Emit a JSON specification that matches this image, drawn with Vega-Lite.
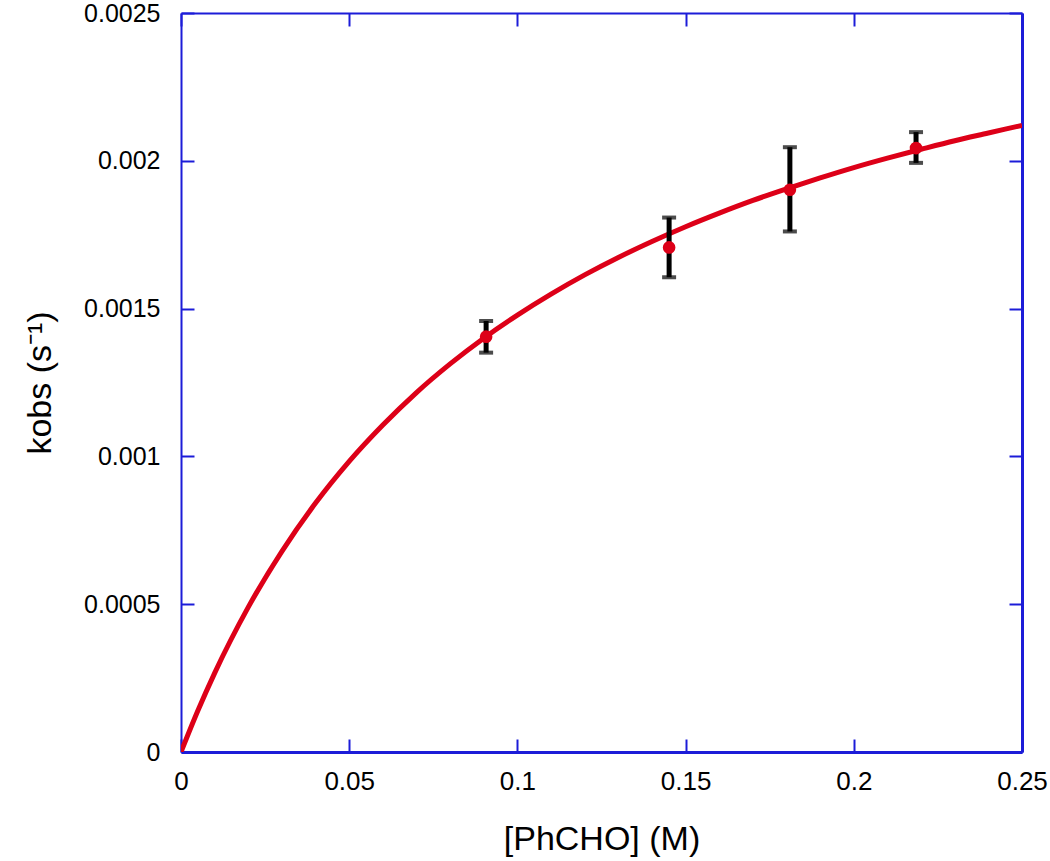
{
  "$schema": "https://vega.github.io/schema/vega-lite/v6.json",
  "width": 841,
  "height": 739,
  "autosize": {"type": "none"},
  "padding": {"left": 181, "top": 13, "right": 28, "bottom": 109},
  "background": "white",
  "config": {
    "view": {"stroke": null},
    "font": "Liberation Sans",
    "axis": {
      "grid": false,
      "domainColor": "#1c1cd8",
      "tickColor": "#1c1cd8",
      "labelColor": "#000000",
      "titleColor": "#000000",
      "labelFont": "Liberation Sans",
      "titleFont": "Liberation Sans",
      "titleFontWeight": "normal"
    }
  },
  "datasets": {
    "curve": [
      {"x": 0, "k": 0},
      {"x": 0.005, "k": 0.0001397},
      {"x": 0.01, "k": 0.000267},
      {"x": 0.02, "k": 0.00049},
      {"x": 0.03, "k": 0.000679},
      {"x": 0.04, "k": 0.000842},
      {"x": 0.05, "k": 0.000983},
      {"x": 0.06, "k": 0.001106},
      {"x": 0.07, "k": 0.001216},
      {"x": 0.08, "k": 0.001313},
      {"x": 0.09, "k": 0.0014},
      {"x": 0.1, "k": 0.001478},
      {"x": 0.11, "k": 0.001549},
      {"x": 0.12, "k": 0.001614},
      {"x": 0.13, "k": 0.001673},
      {"x": 0.14, "k": 0.001727},
      {"x": 0.15, "k": 0.001777},
      {"x": 0.16, "k": 0.001823},
      {"x": 0.17, "k": 0.001866},
      {"x": 0.18, "k": 0.001905},
      {"x": 0.19, "k": 0.001942},
      {"x": 0.2, "k": 0.001977},
      {"x": 0.21, "k": 0.002009},
      {"x": 0.22, "k": 0.002039},
      {"x": 0.23, "k": 0.002068},
      {"x": 0.24, "k": 0.002094},
      {"x": 0.25, "k": 0.00212}
    ],
    "points": [
      {"x": 0.0907, "k": 0.001405, "klo": 0.001351, "khi": 0.001458},
      {"x": 0.1451, "k": 0.001707, "klo": 0.001606, "khi": 0.001808},
      {"x": 0.181, "k": 0.001902, "klo": 0.001761, "khi": 0.002046},
      {"x": 0.2185, "k": 0.002043, "klo": 0.001993, "khi": 0.002097}
    ]
  },
  "resolve": {"axis": {"x": "independent", "y": "independent"}},
  "layer": [
    {
      "data": {"name": "curve"},
      "mark": {"type": "line", "color": "#dd0018", "strokeWidth": 5, "interpolate": "monotone", "clip": true},
      "encoding": {
        "x": {
          "field": "x", "type": "quantitative",
          "scale": {"domain": [0, 0.25], "nice": false, "zero": false},
          "axis": {
            "orient": "bottom", "title": "[PhCHO] (M)", "values": [0, 0.05, 0.1, 0.15, 0.2, 0.25],
            "format": "~g", "domainWidth": 3, "tickWidth": 2, "tickSize": -13,
            "labelFontSize": 26, "labelPadding": 29, "titleFontSize": 34, "titlePadding": 28, "labelFlush": false
          }
        },
        "y": {
          "field": "k", "type": "quantitative",
          "scale": {"domain": [0, 0.0025], "nice": false, "zero": false},
          "axis": {
            "orient": "left", "title": "kobs (s⁻¹)", "values": [0, 0.0005, 0.001, 0.0015, 0.002, 0.0025],
            "format": "~g", "domainWidth": 2, "tickWidth": 2, "tickSize": -13,
            "labelFontSize": 25, "labelPadding": 34, "titleFontSize": 34, "titlePadding": 26, "labelFlush": false
          }
        }
      }
    },
    {
      "data": {"name": "points"},
      "mark": {"type": "rule", "color": "#000000", "strokeWidth": 5},
      "encoding": {
        "x": {
          "field": "x", "type": "quantitative",
          "axis": {
            "orient": "top", "title": null, "labels": false, "values": [0, 0.05, 0.1, 0.15, 0.2, 0.25],
            "domainWidth": 2, "tickWidth": 2, "tickSize": -13
          }
        },
        "y": {
          "field": "klo", "type": "quantitative",
          "axis": {
            "orient": "right", "title": null, "labels": false, "values": [0, 0.0005, 0.001, 0.0015, 0.002, 0.0025],
            "domainWidth": 3, "tickWidth": 2, "tickSize": -13
          }
        },
        "y2": {"field": "khi"}
      }
    },
    {
      "data": {"name": "points"},
      "mark": {"type": "tick", "color": "#000000", "orient": "horizontal", "size": 14, "thickness": 4},
      "encoding": {
        "x": {"field": "x", "type": "quantitative", "axis": null},
        "y": {"field": "klo", "type": "quantitative", "axis": null}
      }
    },
    {
      "data": {"name": "points"},
      "mark": {"type": "tick", "color": "#000000", "orient": "horizontal", "size": 14, "thickness": 4},
      "encoding": {
        "x": {"field": "x", "type": "quantitative", "axis": null},
        "y": {"field": "khi", "type": "quantitative", "axis": null}
      }
    },
    {
      "data": {"name": "points"},
      "mark": {"type": "point", "filled": true, "shape": "circle", "color": "#dd0018", "size": 160, "opacity": 1},
      "encoding": {
        "x": {"field": "x", "type": "quantitative", "axis": null},
        "y": {"field": "k", "type": "quantitative", "axis": null}
      }
    }
  ]
}
